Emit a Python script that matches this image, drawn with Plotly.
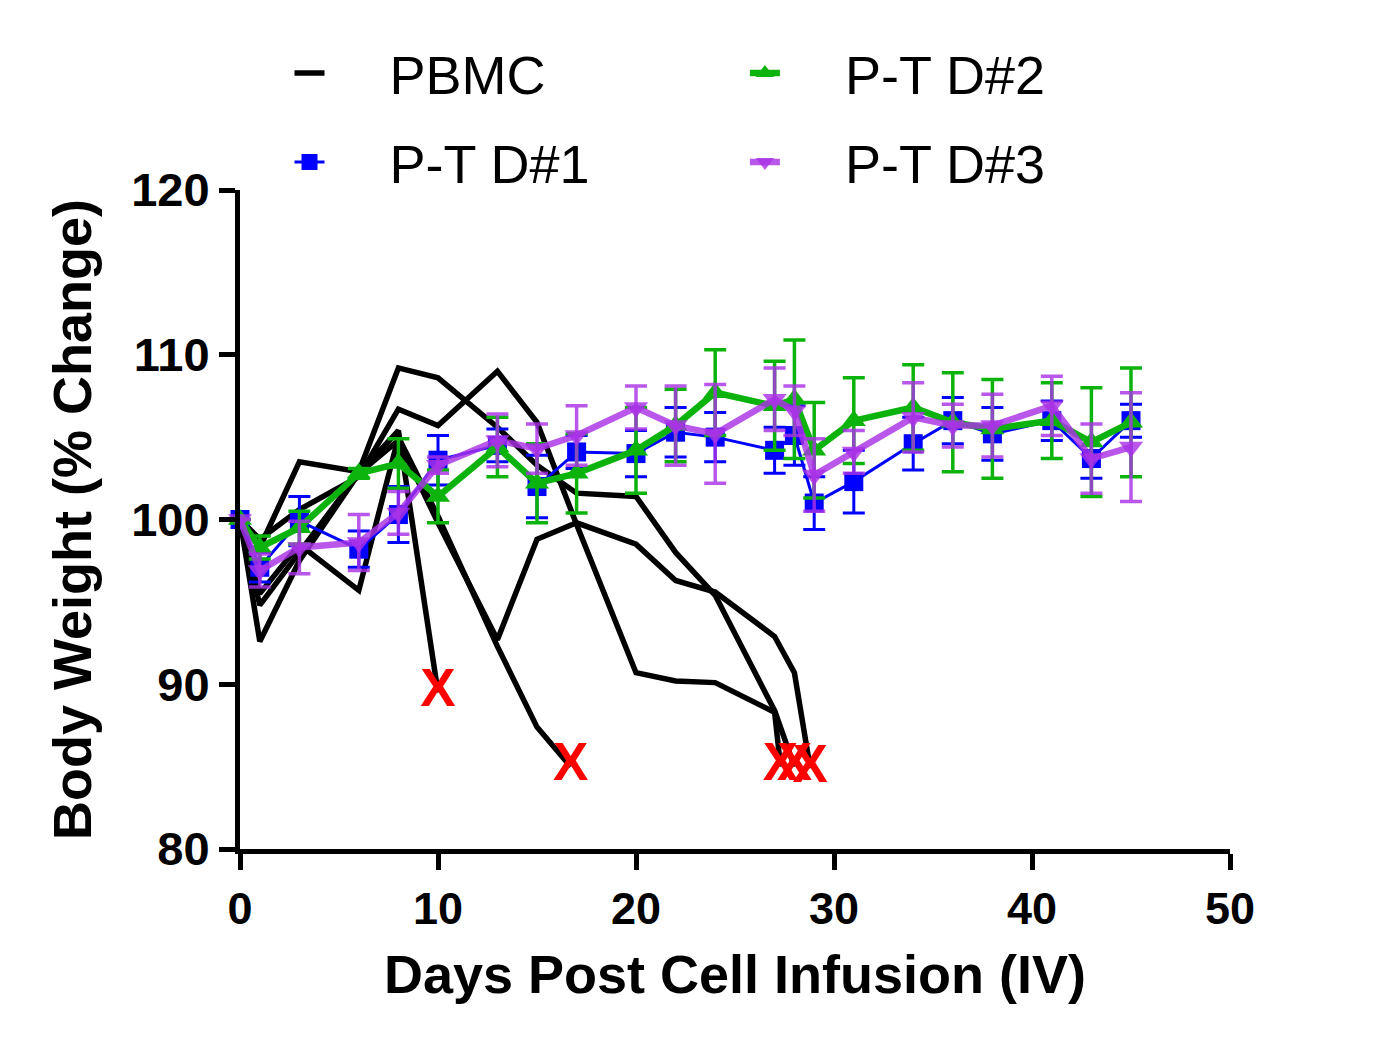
import plotly.graph_objects as go

# ---------------- data ----------------
days_group = [0, 1, 3, 6, 8, 10, 13, 15, 17, 20, 22, 24, 27, 28, 29, 31, 34, 36, 38, 41, 43, 45]

d1_mean = [100, 97.1, 99.9, 98.2, 100.3, 103.6, 104.5, 102.0, 104.1, 104.0, 105.3, 105.0,
           104.2, 105.1, 101.0, 102.3, 104.6, 106.0, 105.2, 106.0, 103.7, 106.0]
d1_err = [0, 0.9, 1.5, 1.1, 1.7, 1.5, 1.0, 1.9, 1.0, 1.4, 1.5, 1.5,
          1.4, 1.8, 1.6, 1.9, 1.6, 1.4, 1.6, 1.2, 1.2, 1.0]

d2_mean = [100, 98.3, 99.5, 102.8, 103.4, 101.4, 104.4, 102.2, 102.8, 104.2, 105.7, 107.7,
           106.9, 107.3, 104.2, 106.0, 106.8, 105.9, 105.5, 106.0, 104.7, 105.9]
d2_err = [0, 0.7, 1.0, 0.3, 1.5, 1.6, 1.8, 2.4, 2.4, 2.6, 2.2, 2.6,
          2.7, 3.6, 2.9, 2.6, 2.6, 3.0, 3.0, 2.3, 3.3, 3.3]

d3_mean = [100, 96.9, 98.3, 98.6, 100.4, 103.3, 104.8, 104.3, 105.1, 106.8, 105.7, 105.2,
           107.3, 106.6, 102.7, 104.1, 106.2, 105.7, 105.7, 106.9, 103.7, 104.4]
d3_err = [0, 1.0, 1.6, 1.7, 1.3, 0.5, 1.6, 1.5, 1.8, 1.3, 2.4, 3.0,
          1.9, 1.5, 2.2, 1.3, 2.1, 1.3, 1.9, 1.8, 2.1, 3.3]

# individual PBMC mice (last point = death, marked with X)
pbmc_a_days = [0, 1, 3, 6, 8, 10]
pbmc_a_vals = [100, 94.8, 98.0, 102.8, 105.4, 89.5]
pbmc_b_days = [0, 1, 3, 6, 8, 10, 13, 15, 16.7]
pbmc_b_vals = [100, 95.5, 98.5, 95.7, 105.0, 100.2, 92.3, 87.4, 85.0]
pbmc_c_days = [0, 1, 3, 6, 8, 10, 13, 15, 17, 20, 22, 24, 27, 28, 28.8]
pbmc_c_vals = [100, 92.6, 97.5, 102.8, 104.8, 99.8, 92.7, 98.8, 99.8, 98.5, 96.3, 95.6, 92.9, 90.7, 84.9]
pbmc_d_days = [0, 1, 3, 6, 8, 10, 13, 15, 17, 20, 22, 24, 27, 28.0]
pbmc_d_vals = [100, 98.3, 103.5, 102.9, 109.2, 108.6, 105.6, 103.3, 101.6, 101.4, 98.0, 95.4, 88.4, 85.0]
pbmc_e_days = [0, 1, 3, 6, 8, 10, 13, 15, 17, 20, 22, 24, 27, 27.3]
pbmc_e_vals = [100, 98.8, 100.6, 102.6, 106.7, 105.7, 109.0, 105.9, 99.7, 90.7, 90.2, 90.1, 88.3, 85.0]

pbmc_mice = [(pbmc_a_days, pbmc_a_vals), (pbmc_b_days, pbmc_b_vals), (pbmc_c_days, pbmc_c_vals),
             (pbmc_d_days, pbmc_d_vals), (pbmc_e_days, pbmc_e_vals)]

x_ticks = [0, 10, 20, 30, 40, 50]
y_ticks = [80, 90, 100, 110, 120]

# ---------------- styling ----------------
FONT = "Arial, Liberation Sans, sans-serif"
BLUE = "#0000FF"
GREEN = "#0DB30D"
PURPLE = "rgba(170,50,230,0.82)"
NB = "\u00a0"

fig = go.Figure()

for i, (dx, dv) in enumerate(pbmc_mice):
    fig.add_trace(go.Scatter(
        x=dx, y=dv, mode="lines", name=NB * 4 + "PBMC",
        line=dict(color="black", width=5.5),
        showlegend=(i == 0), legend="legend", cliponaxis=False))

fig.add_trace(go.Scatter(
    x=days_group, y=d1_mean, mode="lines+markers", name=NB * 4 + "P-T D#1",
    line=dict(color=BLUE, width=3),
    marker=dict(symbol="square", size=19, color=BLUE),
    error_y=dict(type="data", array=d1_err, color=BLUE, thickness=3, width=11),
    legend="legend2", cliponaxis=False))

fig.add_trace(go.Scatter(
    x=days_group, y=d2_mean, mode="lines+markers", name=NB * 4 + "P-T D#2",
    line=dict(color=GREEN, width=6.5),
    marker=dict(symbol="triangle-up", size=21, color=GREEN),
    error_y=dict(type="data", array=d2_err, color=GREEN, thickness=3.5, width=11),
    legend="legend3", cliponaxis=False))

fig.add_trace(go.Scatter(
    x=days_group, y=d3_mean, mode="lines+markers", name=NB * 4 + "P-T D#3",
    line=dict(color=PURPLE, width=6.5),
    marker=dict(symbol="triangle-down", size=21, color=PURPLE),
    error_y=dict(type="data", array=d3_err, color=PURPLE, thickness=3.5, width=11),
    legend="legend4", cliponaxis=False))

# death markers
fig.add_trace(go.Scatter(
    x=[m[0][-1] for m in pbmc_mice], y=[m[1][-1] for m in pbmc_mice],
    mode="text", text=["X"] * len(pbmc_mice), textposition="middle center",
    textfont=dict(family=FONT, size=53, color="#FF0000", weight="bold"),
    showlegend=False, cliponaxis=False, hoverinfo="skip"))

leg_common = dict(font=dict(family=FONT, size=54, color="black"),
                  bgcolor="rgba(0,0,0,0)", borderwidth=0,
                  xanchor="left", yanchor="middle", itemsizing="trace")

fig.update_layout(
    width=1379, height=1048,
    margin=dict(l=232, r=157, t=182, b=207),
    paper_bgcolor="white", plot_bgcolor="white",
    legend=dict(x=0.05, y=1.177, **leg_common),
    legend2=dict(x=0.05, y=1.042, **leg_common),
    legend3=dict(x=0.51, y=1.177, **leg_common),
    legend4=dict(x=0.51, y=1.042, **leg_common),
    xaxis=dict(range=[0, 50], tickvals=x_ticks, ticktext=[str(v) for v in x_ticks],
               showline=True, linewidth=5, linecolor="black",
               ticks="outside", ticklen=16, tickwidth=5, tickcolor="black",
               showgrid=False, zeroline=False,
               tickfont=dict(family=FONT, size=45, color="black", weight="bold"),
               title=dict(text="Days Post Cell Infusion (IV)", standoff=24,
                          font=dict(family=FONT, size=54, color="black", weight="bold"))),
    yaxis=dict(range=[80, 120], tickvals=y_ticks, ticktext=[str(v) for v in y_ticks],
               showline=True, linewidth=5, linecolor="black",
               ticks="outside", ticklen=16, tickwidth=5, tickcolor="black",
               showgrid=False, zeroline=False,
               tickfont=dict(family=FONT, size=47, color="black", weight="bold"),
               title=dict(text="Body Weight (% Change)", standoff=24,
                          font=dict(family=FONT, size=54, color="black", weight="bold"))),
)

fig.write_html("out.html")
